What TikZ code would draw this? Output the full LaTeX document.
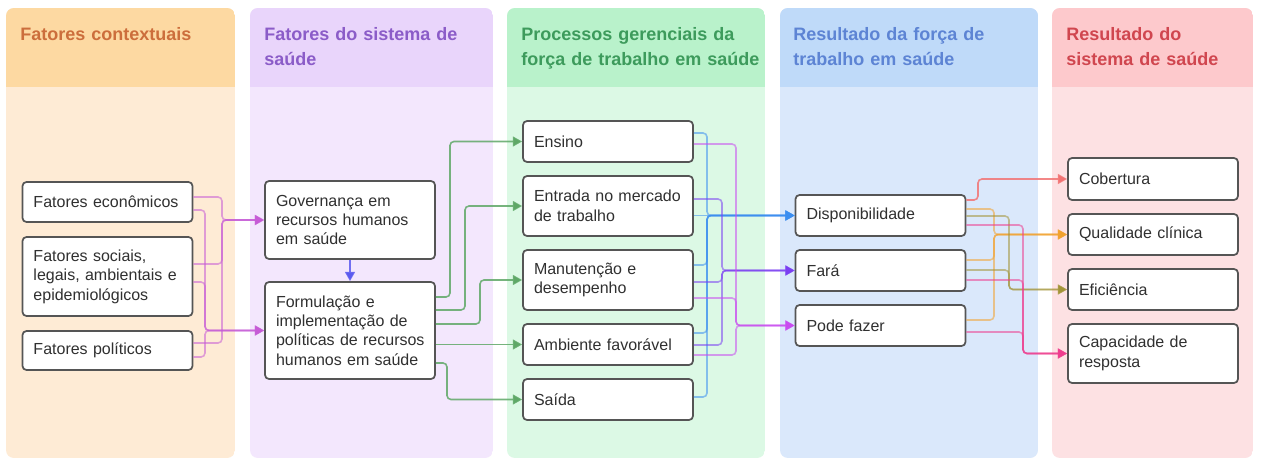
\documentclass[tikz,border=0pt]{standalone}
\usepackage{fontspec}
\setmainfont{Liberation Sans}
\usetikzlibrary{arrows.meta, calc}
% panel colours
\definecolor{hdA}{HTML}{FDD9A2}\definecolor{bdA}{HTML}{FEEBD5}\definecolor{tA}{HTML}{CC6E3C}
\definecolor{hdB}{HTML}{E9D5FB}\definecolor{bdB}{HTML}{F3E7FD}\definecolor{tB}{HTML}{8B5CC8}
\definecolor{hdC}{HTML}{B9F2CB}\definecolor{bdC}{HTML}{DCF9E5}\definecolor{tC}{HTML}{3D9B5C}
\definecolor{hdD}{HTML}{BFDAF9}\definecolor{bdD}{HTML}{DAE8FB}\definecolor{tD}{HTML}{5D84D4}
\definecolor{hdE}{HTML}{FDC9CC}\definecolor{bdE}{HTML}{FDE1E3}\definecolor{tE}{HTML}{D0464F}
% connector colours
\definecolor{cpur}{HTML}{C65BD6}
\definecolor{cgrn}{HTML}{5FA867}
\definecolor{cgov}{HTML}{5B5BEF}
\definecolor{cdisp}{HTML}{3B8EF0}
\definecolor{cfara}{HTML}{7B3FF2}
\definecolor{cpode}{HTML}{C94BF0}
\definecolor{ccob}{HTML}{F27373}
\definecolor{cqual}{HTML}{F2A22E}
\definecolor{cefic}{HTML}{A39437}
\definecolor{ccap}{HTML}{EE3D8E}
\definecolor{boxline}{HTML}{555555}
\definecolor{boxtext}{HTML}{303030}

\begin{document}
\begin{tikzpicture}[x=0.75pt, y=-0.75pt,
    blk/.style={draw=boxline, line width=1.3pt, fill=white, rounded corners=3pt,
        inner xsep=8.25pt, inner ysep=0pt, text width=111pt,
        execute at begin node={\parindent=0pt\rightskip=-14pt plus 1fil\relax},
        font=\fontsize{12}{14.6}\selectfont, text=boxtext},
    hdr/.style={anchor=north west, inner sep=0pt, text width=180pt, align=left,
        font=\fontsize{13.5}{18.75}\selectfont\bfseries},
    lk/.style={draw=#1, draw opacity=.55, line width=1.2pt, rounded corners=3pt,
        -{Triangle[length=7pt,width=7.5pt]}},
    solo/.style={draw opacity=.85}]
\fill[white] (0,0) rectangle (1261,467);
\useasboundingbox (0,0) rectangle (1261,467);

% Columns
\foreach \xa/\xb/\hd/\bd in {6/235/hdA/bdA, 250/493/hdB/bdB, 507/765/hdC/bdC,
    780/1038/hdD/bdD, 1052/1253/hdE/bdE} {
    \begin{scope}
    \clip[rounded corners=6pt] (\xa,8) rectangle (\xb,458);
    \fill[\bd] (\xa,8) rectangle (\xb,458);
    \fill[\hd] (\xa,8) rectangle (\xb,87);
    \end{scope}
}
\node[hdr, text=tA] (hA) at (20,23) {\strut Fatores contextuais};
\node[hdr, text=tB] (hB) at (264,23) {\strut Fatores do sistema de\\saúde};
\node[hdr, text=tC] (hC) at (521,23) {\strut Processos gerenciais da\\força de trabalho em saúde};
\node[hdr, text=tD] (hD) at (793,23) {\strut Resultado da força de\\trabalho em saúde};
\node[hdr, text=tE] (hE) at (1066,23) {\strut Resultado do\\sistema de saúde};

% Contextual factors
\node[blk, minimum height=30pt] (econ) at (107.5,202) {Fatores econômicos};
\node[blk, minimum height=59.25pt] (soc) at (107.5,276.5) {Fatores sociais,\\legais, ambientais e\\epidemiológicos};
\node[blk, minimum height=29.25pt] (pol) at (107.5,350.5) {Fatores políticos};

% Health system factors
\node[blk, minimum height=58.5pt] (gov) at (350,220) {Governança em\\recursos humanos\\em saúde};
\node[blk, minimum height=72.75pt] (form) at (350,330.5) {Formulação e\\implementação de\\políticas de recursos\\humanos em saúde};

% Management processes
\node[blk, minimum height=30.75pt] (ens) at (608,141.5) {Ensino};
\node[blk, minimum height=45pt] (ent) at (608,206) {Entrada no mercado\\de trabalho};
\node[blk, minimum height=45pt] (man) at (608,280) {Manutenção e\\desempenho};
\node[blk, minimum height=30.75pt] (amb) at (608,344.5) {Ambiente favorável};
\node[blk, minimum height=30.75pt] (sai) at (608,399.5) {Saída};

% Workforce outcomes
\node[blk, minimum height=30.75pt] (disp) at (880.5,215.5) {Disponibilidade};
\node[blk, minimum height=30.75pt] (fara) at (880.5,270.5) {Fará};
\node[blk, minimum height=30.75pt] (pode) at (880.5,325.5) {Pode fazer};

% Health system outcomes
\node[blk, minimum height=31.5pt] (cob) at (1153,179) {Cobertura};
\node[blk, minimum height=30.75pt] (qual) at (1153,234.5) {Qualidade clínica};
\node[blk, minimum height=30.75pt] (efic) at (1153,289.5) {Eficiência};
\node[blk, minimum height=44.25pt] (cap) at (1153,353.5) {Capacidade de\\resposta};

% bus lines
\coordinate (bgov) at (222,0);   \coordinate (bform) at (205,0);
\coordinate (bens) at (450,0);   \coordinate (bent) at (465,0);
\coordinate (bman) at (480,0);   \coordinate (bsai) at (447,0);
\coordinate (bdisp) at (707,0);  \coordinate (bfara) at (722,0);
\coordinate (bpode) at (736,0);
\coordinate (bcob) at (978,0);   \coordinate (bqual) at (994,0);
\coordinate (befic) at (1009,0); \coordinate (bcap) at (1023,0);

% contextual -> health system
\foreach \src/\dy in {econ/-5, soc/-12.5, pol/-7.5}
    \draw[lk=cpur] ($(\src.east)+(0,\dy)$) -| (bgov |- gov.west) -- (gov.west);
\foreach \src/\dy in {econ/8, soc/5.5, pol/6.5}
    \draw[lk=cpur] ($(\src.east)+(0,\dy)$) -| (bform |- form.west) -- (form.west);
\draw[lk=cgov, solo] (gov.south) -- (form.north);

% health system -> processes
\draw[lk=cgrn, solo] ($(form.east)+(0,-33.5)$) -| (bens |- ens.west) -- (ens.west);
\draw[lk=cgrn, solo] ($(form.east)+(0,-20.5)$) -| (bent |- ent.west) -- (ent.west);
\draw[lk=cgrn, solo] ($(form.east)+(0,-6.5)$) -| (bman |- man.west) -- (man.west);
\draw[lk=cgrn, solo] (form.east |- amb.west) -- (amb.west);
\draw[lk=cgrn, solo] ($(form.east)+(0,32.5)$) -| (bsai |- sai.west) -- (sai.west);

% processes -> workforce outcomes
\foreach \src/\dy in {ens/-8.5, man/-15, amb/-11.5, sai/-2.5}
    \draw[lk=cdisp] ($(\src.east)+(0,\dy)$) -| (bdisp |- disp.west) -- (disp.west);
\draw[lk=cdisp] (ent.east |- disp.west) -- (disp.west);
\foreach \src/\dy in {ent/-7, man/2, amb/0.5}
    \draw[lk=cfara] ($(\src.east)+(0,\dy)$) -| (bfara |- fara.west) -- (fara.west);
\foreach \src/\dy in {ens/2.5, man/18, amb/10.5}
    \draw[lk=cpode] ($(\src.east)+(0,\dy)$) -| (bpode |- pode.west) -- (pode.west);

% workforce outcomes -> health system outcomes
\draw[lk=ccob, solo] ($(disp.east)+(0,-15.5)$) -| (bcob |- cob.west) -- (cob.west);
\foreach \src/\dy in {disp/-6.5, fara/-10.5, pode/-5.5}
    \draw[lk=cqual] ($(\src.east)+(0,\dy)$) -| (bqual |- qual.west) -- (qual.west);
\foreach \src/\dy in {disp/0.5, fara/-0.5}
    \draw[lk=cefic] ($(\src.east)+(0,\dy)$) -| (befic |- efic.west) -- (efic.west);
\foreach \src/\dy in {disp/9.5, fara/9.5, pode/6.5}
    \draw[lk=ccap] ($(\src.east)+(0,\dy)$) -| (bcap |- cap.west) -- (cap.west);
\end{tikzpicture}
\end{document}
